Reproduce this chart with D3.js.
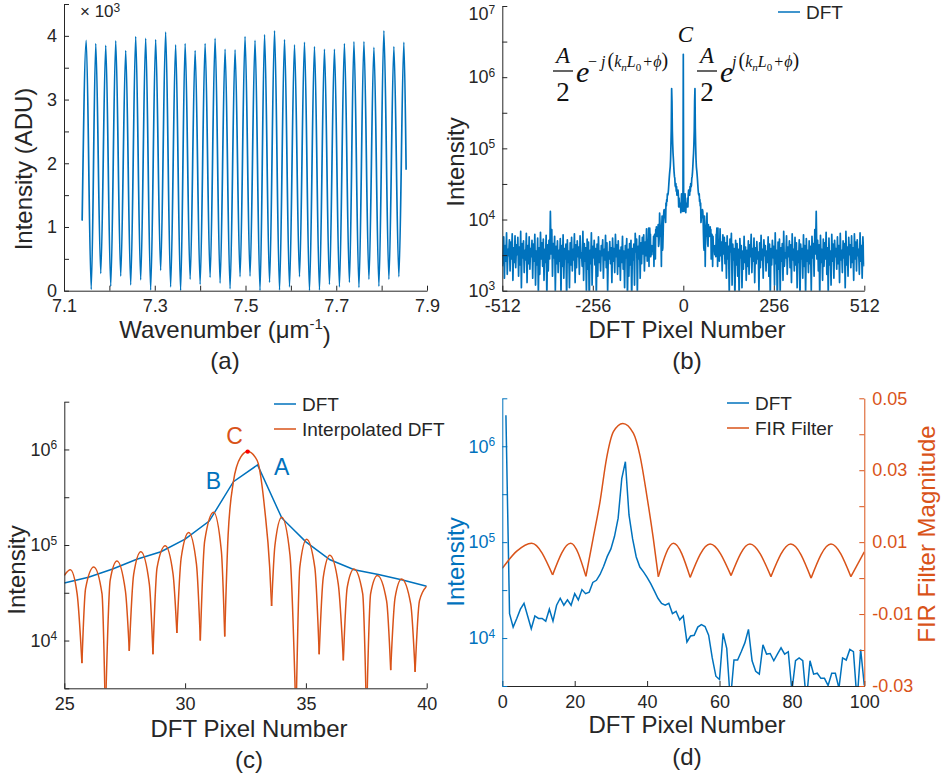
<!DOCTYPE html>
<html>
<head>
<meta charset="utf-8">
<script src="https://cdn.jsdelivr.net/npm/d3@7"></script>
<style>
  body { margin: 0; background: #fff; }
</style>
</head>
<body>
<svg id="fig" width="945" height="780"></svg>
<script>
// ---------- (a) fringe spectrum: extrema, intensity in 10^3 ADU ----------
var fringeK = [7.140, 7.149, 7.160, 7.170, 7.181, 7.192, 7.203, 7.214, 7.225, 7.236,
               7.247, 7.258, 7.269, 7.280, 7.291, 7.302, 7.313, 7.324, 7.335, 7.346,
               7.357, 7.367, 7.378, 7.389, 7.400, 7.411, 7.422, 7.433, 7.444, 7.455,
               7.466, 7.477, 7.488, 7.499, 7.510, 7.521, 7.532, 7.542, 7.553, 7.564,
               7.575, 7.586, 7.597, 7.608, 7.619, 7.630, 7.641, 7.652, 7.663, 7.674,
               7.685, 7.696, 7.707, 7.718, 7.729, 7.739, 7.750, 7.761, 7.772, 7.783,
               7.794, 7.805, 7.816, 7.827, 7.838, 7.849, 7.854];
var fringeI = [1.10, 3.93, 0.02, 3.88, 0.27, 3.85, 0.07, 3.92, 0.23, 3.77,
               0.09, 3.99, 0.17, 3.96, 0.01, 3.94, 0.32, 4.06, 0.06, 3.86,
               0.00, 3.88, 0.18, 3.77, 0.10, 3.88, 0.21, 3.96, 0.12, 3.79,
               0.03, 3.78, 0.22, 3.99, 0.23, 3.93, 0.00, 4.02, 0.13, 4.08,
               0.01, 3.94, 0.06, 3.86, 0.22, 3.90, 0.00, 3.83, 0.01, 3.79,
               0.10, 3.79, 0.06, 3.88, 0.13, 3.91, 0.05, 3.91, 0.18, 3.82,
               0.07, 4.08, 0.18, 3.83, 0.22, 3.90, 1.90];
var aTickX = [7.1, 7.2, 7.3, 7.4, 7.5, 7.6, 7.7, 7.8, 7.9];
var aLabelX = [7.1, 7.3, 7.5, 7.7, 7.9];
var aTickY = [0, 0.5, 1, 1.5, 2, 2.5, 3, 3.5, 4, 4.5];
var aLabelY = [0, 1, 2, 3, 4];

// ---------- DFT magnitude (one-sided, spectrum of a real signal) ----------
// bins 0..99
var dftLow = [2100000, 18000, 13000, 16000, 20000, 23000, 17000, 12500, 17000, 16000,
              16000, 15000, 20000, 15000, 22000, 26000, 22000, 25000, 22000, 29000,
              25000, 32000, 29000, 30000, 38000, 40000, 46000, 56000, 71000, 85000,
              115000, 178000, 460000, 690000, 192000, 108000, 70000, 55000, 49000, 43000,
              37000, 31000, 26000, 23000, 22000, 23000, 18000, 19000, 15500, 17000,
              9100, 10500, 10700, 13000, 13800, 13200, 10700, 6200, 4000, 3700,
              11200, 7800, 2200, 5900, 5900, 7200, 8900, 12300, 5800, 4500,
              4200, 8500, 6800, 6900, 5800, 6800, 7900, 6800, 7200, 2800,
              5800, 6200, 5800, 2200, 5800, 4200, 4300, 3800, 3800, 3200,
              4300, 4300, 3000, 6200, 5900, 7600, 7200, 2200, 7600, 3200];
// bins 100, 102, ..., 512 (noise floor)
var dftNoise = [5200, 2600, 7400, 3100, 4800, 1900, 6100, 3300, 5600, 2400,
                4700, 1500, 5900, 2800, 4200, 900, 5300, 3500, 6400, 1200,
                4500, 2700, 3900, 700, 5100, 2300, 4600, 1600, 3800, 800,
                5400, 2900, 4300, 1100, 3600, 2000, 5800, 2500, 4100, 1400,
                3700, 2200, 5000, 1700, 4400, 3000, 6200, 1800, 3900, 2600,
                5500, 1300, 4000, 2400, 4900, 2800, 3500, 1000, 4700, 2100,
                6000, 2700, 3800, 1500, 5200, 3100, 4300, 1900, 3600, 2500,
                5700, 1600, 4500, 800, 3900, 2300, 5100, 2900, 4200, 1200,
                6500, 2400, 3700, 600, 4800, 2000, 5300, 900, 4000, 2600,
                4600, 1400, 6800, 2200, 3400, 2900, 5900, 1700, 4100, 3000,
                5000, 2100, 4400, 1300, 6300, 2700, 3800, 1900, 5600, 2300,
                4700, 1100, 3600, 2500, 5200, 700, 4500, 2800, 3900, 1500,
                6100, 2200, 4300, 900, 5400, 2600, 3700, 1800, 5000, 2400,
                4200, 1000, 5800, 2900, 4600, 1600, 7200, 3300, 13000, 2800,
                5100, 1900, 4400, 800, 6000, 2500, 3800, 1400, 5300, 2200,
                4700, 2800, 6600, 1700, 4000, 900, 5500, 2300, 3600, 1200,
                6200, 2600, 4500, 1500, 5100, 3000, 3900, 2000, 5700, 2400,
                4300, 1300, 6400, 2700, 3700, 1800, 5000, 2900, 4600, 1100,
                6800, 2300, 4100, 1600, 5600, 3200, 4400, 2100, 5900, 2500,
                4000, 1400, 6300, 2800, 4800, 1900, 5200, 3100, 3800, 1700,
                6500, 2600, 4300, 1500, 5700, 3300, 2200];
var bTickX = [-512, -256, 0, 256, 512];
var bTickExp = [3, 3.5, 4, 4.5, 5, 5.5, 6, 6.5, 7];

// ---------- (c) zero-padded (interpolated) DFT around the peak ----------
var interpK = [25.00, 25.25, 25.53, 25.73, 25.88, 26.22, 26.56, 26.70, 26.90, 27.18,
               27.53, 27.69, 27.87, 28.17, 28.52, 28.67, 28.84, 29.18, 29.50, 29.66,
               29.84, 30.15, 30.47, 30.63, 30.81, 31.18, 31.50, 31.64, 31.78, 32.00,
               32.30, 32.59, 32.90, 33.03, 33.30, 33.50, 33.58, 33.72, 34.00, 34.34,
               34.59, 34.75, 35.03, 35.37, 35.55, 35.72, 35.99, 36.34, 36.55, 36.71,
               36.99, 37.35, 37.51, 37.68, 37.96, 38.34, 38.51, 38.69, 38.96, 39.34,
               39.52, 39.70, 40.00];
var interpI = [48000, 55000, 31000, 5800, 35000, 59000, 31000, 1600, 43000, 68000,
               33000, 7800, 49000, 85000, 39000, 7200, 58000, 98000, 50000, 12000,
               74000, 135000, 63000, 10000, 110000, 220000, 87000, 11000, 126000, 460000,
               830000, 950000, 830000, 710000, 230000, 59000, 23000, 100000, 195000, 79000,
               1500, 59000, 115000, 58000, 7200, 46000, 78000, 39000, 6200, 36000,
               56000, 31000, 1500, 31000, 48000, 26000, 4900, 28000, 44000, 24000,
               4700, 26000, 37000];
var cTickX = [25, 30, 35, 40];
var cTickExp = [3.5, 4, 4.5, 5, 5.5, 6, 6.5];

// ---------- (d) FIR filter magnitude ----------
var firPix = [0, 4.0, 8.1, 13.9, 18.9, 23.1, 25.1, 27.0, 28.8, 30.7,
              33.3, 36.2, 38.0, 39.9, 41.7, 43.1, 47.3, 51.9, 57.4, 63.2,
              68.4, 74.2, 79.7, 85.3, 90.8, 96.3, 100];
var firMag = [0.0027, 0.0075, 0.0097, 0.0009, 0.0097, 0.0005, 0.0111, 0.0213, 0.0333, 0.0407,
              0.0430, 0.0403, 0.0342, 0.0231, 0.0111, 0.0004, 0.0097, 0.0002, 0.0095, 0.0007,
              0.0095, 0.0004, 0.0095, 0.0000, 0.0095, 0.0004, 0.0073];
var dTickX = [0, 20, 40, 60, 80, 100];
var dTickExp = [3.5, 4, 4.5, 5, 5.5, 6, 6.5];
var dTickR = [-0.03, -0.02, -0.01, 0, 0.01, 0.02, 0.03, 0.04, 0.05];
var dLabelR = [-0.03, -0.01, 0.01, 0.03, 0.05];

// ---------- drawing ----------
var FONT = "'Liberation Sans', Arial, Helvetica, sans-serif";
var SERIF = "'Liberation Serif', 'Times New Roman', serif";
var INK = "#262626", BLUE = "#0072BD", ORANGE = "#D95319";
var TICK = 5;

var svg = d3.select("#fig");
var defs = svg.append("defs");

function clip(id, x, y) {
    defs.append("clipPath").attr("id", id).append("rect")
        .attr("x", x.range()[0]).attr("y", y.range()[1])
        .attr("width", x.range()[1] - x.range()[0])
        .attr("height", y.range()[0] - y.range()[1]);
    return "url(#" + id + ")";
}

function styleAxis(g, color) {
    g.attr("font-family", FONT).attr("font-size", 18);
    g.select(".domain").attr("stroke", color).attr("stroke-width", 1);
    g.selectAll(".tick line").attr("stroke", color);
    g.selectAll(".tick text").attr("fill", color);
    return g;
}

function bottomAxis(x, y0, ticks, fmt) {
    var g = svg.append("g").attr("transform", "translate(0," + y0 + ")")
        .call(d3.axisBottom(x).tickValues(ticks).tickSizeInner(-TICK).tickSizeOuter(0)
            .tickPadding(9).tickFormat(fmt));
    return styleAxis(g, INK);
}

function leftAxis(y, x0, ticks, fmt, color) {
    var g = svg.append("g").attr("transform", "translate(" + x0 + ",0)")
        .call(d3.axisLeft(y).tickValues(ticks).tickSizeInner(-TICK).tickSizeOuter(0)
            .tickPadding(7).tickFormat(fmt));
    return styleAxis(g, color);
}

// log axis: ticks every half decade, "10^n" labels on the decades
function logAxis(y, x0, exps, color) {
    var g = leftAxis(y, x0, exps.map(function (e) { return Math.pow(10, e); }), function () { return ""; }, color);
    g.selectAll(".tick text").each(function (d) {
        var e = Math.round(Math.log10(d) * 2) / 2;
        if (e % 1 !== 0) return;
        var t = d3.select(this);
        // keep a label at the very top of the figure inside the page
        if (y(d) < 14) t.attr("y", 14 - y(d));
        t.append("tspan").text("10");
        t.append("tspan").attr("dy", "-0.55em").attr("font-size", 12).text(e);
    });
    return g;
}

function text(x, y, s, opt) {
    opt = opt || {};
    return svg.append("text").attr("x", x).attr("y", y)
        .attr("font-family", opt.family || FONT).attr("font-size", opt.size || 24)
        .attr("fill", opt.color || INK).attr("text-anchor", opt.anchor || "middle")
        .attr("font-style", opt.style || null).text(s);
}

function yLabel(x, y, s, color) {
    svg.append("text").attr("transform", "translate(" + x + "," + y + ") rotate(-90)")
        .attr("font-family", FONT).attr("font-size", 24).attr("fill", color || INK)
        .attr("text-anchor", "middle").text(s);
}

function legend(x, y, items) {
    items.forEach(function (it, i) {
        svg.append("line").attr("x1", x).attr("x2", x + 22)
            .attr("y1", y + i * 25).attr("y2", y + i * 25)
            .attr("stroke", it.color).attr("stroke-width", 1.5);
        text(x + 28, y + i * 25 + 7, it.label, { size: 19, anchor: "start" });
    });
}

// split a series at its nulls (local minima) so each lobe is its own smooth arch
function lobes(pts) {
    var segs = [], cur = [pts[0]];
    for (var i = 1; i < pts.length; i++) {
        cur.push(pts[i]);
        if (i < pts.length - 1 && pts[i].v < pts[i - 1].v && pts[i].v < pts[i + 1].v) {
            segs.push(cur);
            cur = [pts[i]];
        }
    }
    segs.push(cur);
    return segs;
}

// ===== (a) =====
var xA = d3.scaleLinear().domain(d3.extent(aTickX)).range([64, 427]);
var yA = d3.scaleLinear().domain(d3.extent(aTickY)).range([290.7, 4]);
var fringe = fringeK.map(function (k, i) { return { k: k, v: fringeI[i] }; });

svg.append("path").datum(fringe)
    .attr("clip-path", clip("clipA", xA, yA))
    .attr("fill", "none").attr("stroke", BLUE).attr("stroke-width", 1.7)
    .attr("d", d3.line().x(function (d) { return xA(d.k); }).y(function (d) { return yA(d.v); })
        .curve(d3.curveMonotoneX));

bottomAxis(xA, yA.range()[0], aTickX, function (d) { return aLabelX.indexOf(d) >= 0 ? d3.format(".1f")(d) : ""; });
leftAxis(yA, xA.range()[0], aTickY, function (d) { return aLabelY.indexOf(d) >= 0 ? d : ""; }, INK);

var mult = text(80, 17, "\u00d7 10", { size: 17, anchor: "start" });
mult.append("tspan").attr("dy", "-0.45em").attr("font-size", 12).text("3");

yLabel(32, 169, "Intensity (ADU)");
var wl = text(225, 338, "Wavenumber (\u03bcm");
wl.append("tspan").attr("dy", "-0.6em").attr("font-size", 15).text("-1");
wl.append("tspan").attr("dy", "0.6em").text(")");
text(225, 369, "(a)");

// ===== (b) =====
var xB = d3.scaleLinear().domain(d3.extent(bTickX)).range([502.3, 864.3]);
var yB = d3.scaleLog().domain([Math.pow(10, bTickExp[0]), Math.pow(10, bTickExp[bTickExp.length - 1])]).range([290.7, 6]);

var posK = d3.range(dftLow.length).concat(d3.range(100, 513, 2));
var posV = dftLow.concat(dftNoise);
var bData = [];
for (var i = posK.length - 1; i >= 1; i--) bData.push({ k: -posK[i], v: posV[i] });
for (i = 0; i < posK.length; i++) bData.push({ k: posK[i], v: posV[i] });

svg.append("path").datum(bData)
    .attr("clip-path", clip("clipB", xB, yB))
    .attr("fill", "none").attr("stroke", BLUE).attr("stroke-width", 1.7)
    .attr("stroke-linejoin", "round")
    .attr("d", d3.line().x(function (d) { return xB(d.k); }).y(function (d) { return yB(d.v); }));

bottomAxis(xB, yB.range()[0], bTickX, function (d) { return String(d); });
logAxis(yB, xB.range()[0], bTickExp, INK);
yLabel(464, 162, "Intensity");
text(687, 338, "DFT Pixel Number");
text(687, 369, "(b)");
legend(778, 12, [{ color: BLUE, label: "DFT" }]);

// phasor annotations
function phasor(xc, neg) {
    var g = svg.append("g").attr("font-family", SERIF).attr("fill", "#111");
    g.append("text").attr("x", xc).attr("y", 63).attr("text-anchor", "middle")
        .attr("font-style", "italic").attr("font-size", 23).text("A");
    g.append("line").attr("x1", xc - 10).attr("x2", xc + 10).attr("y1", 71).attr("y2", 71)
        .attr("stroke", "#111").attr("stroke-width", 1.3);
    g.append("text").attr("x", xc).attr("y", 101).attr("text-anchor", "middle")
        .attr("font-size", 27).text("2");
    g.append("text").attr("x", xc + 13).attr("y", 82).attr("font-style", "italic")
        .attr("font-size", 30).text("e");
    var s = g.append("text").attr("x", xc + 25).attr("y", 67).attr("font-size", 16);
    if (neg) s.append("tspan").text("\u2212 ");
    s.append("tspan").attr("font-style", "italic").text("j");
    s.append("tspan").attr("font-size", 20).attr("dx", 2).text("(");
    s.append("tspan").attr("font-style", "italic").text("k");
    s.append("tspan").attr("font-style", "italic").attr("font-size", 11).attr("dy", 4).text("n");
    s.append("tspan").attr("font-style", "italic").attr("dy", -4).text("L");
    s.append("tspan").attr("font-size", 11).attr("dy", 4).text("0");
    s.append("tspan").attr("dy", -4).attr("dx", 2).text("+");
    s.append("tspan").attr("font-style", "italic").attr("dx", 1).text("\u03d5");
    s.append("tspan").attr("font-size", 20).text(")");
}
phasor(563, true);
phasor(707, false);
text(xB(0) + 2, 42, "C", { family: SERIF, style: "italic", size: 23, color: "#111" });

// ===== (c) =====
var xC = d3.scaleLinear().domain(d3.extent(cTickX)).range([64.3, 426.7]);
var yC = d3.scaleLog().domain([Math.pow(10, cTickExp[0]), Math.pow(10, cTickExp[cTickExp.length - 1])]).range([688.3, 401.7]);
var clipC = clip("clipC", xC, yC);

var cDft = d3.range(cTickX[0], cTickX[cTickX.length - 1] + 1).map(function (k) { return { k: k, v: dftLow[k] }; });
var cInterp = interpK.map(function (k, i) { return { k: k, v: interpI[i] }; });
var lineC = d3.line().x(function (d) { return xC(d.k); }).y(function (d) { return yC(d.v); });

svg.append("path").datum(cDft).attr("clip-path", clipC)
    .attr("fill", "none").attr("stroke", BLUE).attr("stroke-width", 1.5).attr("d", lineC);
svg.append("g").attr("clip-path", clipC).selectAll("path").data(lobes(cInterp)).enter().append("path")
    .attr("fill", "none").attr("stroke", ORANGE).attr("stroke-width", 1.5)
    .attr("d", lineC.curve(d3.curveMonotoneX));

var cPeak = cInterp[d3.maxIndex(cInterp, function (d) { return d.v; })];
svg.append("circle").attr("cx", xC(cPeak.k)).attr("cy", yC(cPeak.v)).attr("r", 2.2).attr("fill", "#ff0000");

bottomAxis(xC, yC.range()[0], cTickX, function (d) { return d; });
logAxis(yC, xC.range()[0], cTickExp, INK);
yLabel(25, 570, "Intensity");
text(249, 737, "DFT Pixel Number");
text(249, 768, "(c)");
legend(274, 404, [{ color: BLUE, label: "DFT" }, { color: ORANGE, label: "Interpolated DFT" }]);

text(xC(cPeak.k) - 13, yC(cPeak.v) - 8, "C", { size: 23, color: ORANGE });
text(xC(33) + 24, yC(dftLow[33]) + 10, "A", { size: 23, color: BLUE });
text(xC(32) - 20, yC(dftLow[32]) + 7, "B", { size: 23, color: BLUE });

// ===== (d) =====
var xD = d3.scaleLinear().domain(d3.extent(dTickX)).range([502.3, 864.3]);
var yD = d3.scaleLog().domain([Math.pow(10, dTickExp[0]), Math.pow(10, dTickExp[dTickExp.length - 1])]).range([686, 398.3]);
var yR = d3.scaleLinear().domain(d3.extent(dTickR)).range([686, 398.3]);
var clipD = clip("clipD", xD, yD);

// MATLAB 1-based pixel index on this panel
var dDft = dftLow.map(function (v, k) { return { k: k + 1, v: v }; });
var dFir = firPix.map(function (k, i) { return { k: k, v: firMag[i] }; });

svg.append("path").datum(dDft).attr("clip-path", clipD)
    .attr("fill", "none").attr("stroke", BLUE).attr("stroke-width", 1.5)
    .attr("d", d3.line().x(function (d) { return xD(d.k); }).y(function (d) { return yD(d.v); }));
var lineR = d3.line().x(function (d) { return xD(d.k); }).y(function (d) { return yR(d.v); }).curve(d3.curveMonotoneX);
svg.append("g").attr("clip-path", clipD).selectAll("path").data(lobes(dFir)).enter().append("path")
    .attr("fill", "none").attr("stroke", ORANGE).attr("stroke-width", 1.5).attr("d", lineR);

bottomAxis(xD, yD.range()[0], dTickX, function (d) { return d; });
logAxis(yD, xD.range()[0], dTickExp, BLUE);
var gR = svg.append("g").attr("transform", "translate(" + xD.range()[1] + ",0)")
    .call(d3.axisRight(yR).tickValues(dTickR).tickSizeInner(-TICK).tickSizeOuter(0).tickPadding(8)
        .tickFormat(function (d) { return dLabelR.indexOf(d) >= 0 ? d.toFixed(2) : ""; }));
styleAxis(gR, ORANGE);

yLabel(464, 562, "Intensity", BLUE);
yLabel(935, 534, "FIR Filter Magnitude", ORANGE);
text(687, 733, "DFT Pixel Number");
text(687, 765, "(d)");
legend(727, 403, [{ color: BLUE, label: "DFT" }, { color: ORANGE, label: "FIR Filter" }]);
</script>
</body>
</html>
